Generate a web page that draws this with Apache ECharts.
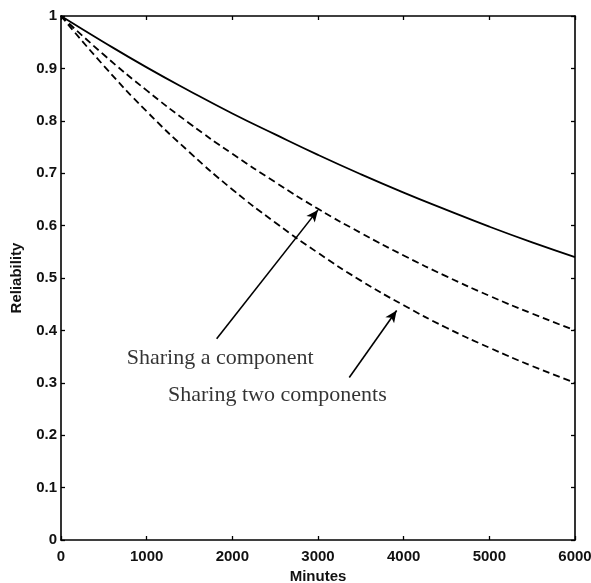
<!DOCTYPE html>
<html>
<head>
    <meta charset="utf-8">
    <title>Reliability</title>
    <script src="https://cdn.jsdelivr.net/npm/echarts@6/dist/echarts.min.js"></script>
    <style>
        html, body { margin: 0; padding: 0; background: #fff; overflow: hidden; }
        #main { width: 591px; height: 583px; }
    </style>
</head>
<body>
    <div id="main"></div>
    <script>
        // minutes on the x axis
        var minutes = [0, 500, 1000, 1500, 2000, 2500, 3000, 3500, 4000, 4500, 5000, 5500, 6000];
        // reliability values
        var noSharing = [1.0, 0.950, 0.902, 0.857, 0.814, 0.774, 0.735, 0.698, 0.663, 0.630, 0.598, 0.568, 0.540];
        var shareOne = [1.0, 0.926, 0.858, 0.795, 0.737, 0.683, 0.632, 0.586, 0.543, 0.503, 0.466, 0.432, 0.400];
        var shareTwo = [1.0, 0.905, 0.818, 0.740, 0.669, 0.606, 0.548, 0.495, 0.448, 0.405, 0.367, 0.332, 0.300];

        // annotation arrows: [from, to] in data units
        var arrowOne = [[1817, 0.384], [3000, 0.630]];
        var arrowTwo = [[3365, 0.310], [3918, 0.438]];
        var noteLabels = ['Sharing a component', 'Sharing two components'];
        var notePos = [[767, 0.347], [1249, 0.277]];

        function pairs(xs, ys) {
            var out = [];
            for (var i = 0; i < xs.length; i++) out.push([xs[i], ys[i]]);
            return out;
        }

        var tickFont = { fontFamily: 'Liberation Sans', fontSize: 15, fontWeight: 'bold', color: '#111' };
        var nameFont = { fontFamily: 'Liberation Sans', fontSize: 15, fontWeight: 'bold', color: '#111' };
        var blackLine = { show: true, onZero: false, lineStyle: { color: '#000', width: 1.6 } };
        var inTick = { show: true, inside: true, length: 4, lineStyle: { color: '#000', width: 1.3 } };

        var myChart = echarts.init(document.getElementById('main'));
        var option = {
            animation: false,
            grid: { left: 61, right: 16, top: 16, bottom: 43, outerBoundsMode: 'none', containLabel: false },
            xAxis: [{
                type: 'value', min: 0, max: 6000, interval: 1000,
                name: 'Minutes', nameLocation: 'middle', nameGap: 29,
                nameTextStyle: nameFont,
                axisLine: blackLine,
                axisTick: inTick,
                axisLabel: Object.assign({ margin: 9, formatter: function (v) { return String(v); } }, tickFont),
                splitLine: { show: false }
            }, {
                type: 'value', min: 0, max: 6000, interval: 1000, position: 'top',
                axisLine: blackLine,
                axisTick: inTick,
                axisLabel: { show: false },
                splitLine: { show: false }
            }],
            yAxis: [{
                type: 'value', min: 0, max: 1, interval: 0.1,
                name: 'Reliability', nameLocation: 'middle', nameGap: 37,
                nameTextStyle: nameFont,
                axisLine: blackLine,
                axisTick: inTick,
                axisLabel: Object.assign({ margin: 4, formatter: function (v) { return String(+v.toFixed(1)); } }, tickFont),
                splitLine: { show: false }
            }, {
                type: 'value', min: 0, max: 1, interval: 0.1, position: 'right',
                axisLine: blackLine,
                axisTick: inTick,
                axisLabel: { show: false },
                splitLine: { show: false }
            }],
            series: [{
                name: 'no sharing', type: 'line', smooth: true, symbol: 'none',
                data: pairs(minutes, noSharing),
                lineStyle: { color: '#000', width: 1.8 }
            }, {
                name: 'sharing a component', type: 'line', smooth: true, symbol: 'none',
                data: pairs(minutes, shareOne),
                lineStyle: { color: '#000', width: 1.8, type: [7, 4] },
                markLine: {
                    silent: true, symbol: ['none', 'arrow'], symbolSize: [8, 12],
                    label: { show: false },
                    lineStyle: { color: '#000', width: 1.6, type: 'solid' },
                    data: [
                        [{ coord: arrowOne[0] }, { coord: arrowOne[1] }],
                        [{ coord: arrowTwo[0] }, { coord: arrowTwo[1] }]
                    ]
                }
            }, {
                name: 'sharing two components', type: 'line', smooth: true, symbol: 'none',
                data: pairs(minutes, shareTwo),
                lineStyle: { color: '#000', width: 1.8, type: [7, 4] }
            }, {
                name: 'notes', type: 'scatter', symbolSize: 0, silent: true,
                data: notePos.map(function (p, i) { return { value: p, name: noteLabels[i] }; }),
                label: {
                    show: true, position: 'right', distance: 0,
                    formatter: '{b}',
                    fontFamily: 'Liberation Serif', fontSize: 22, color: '#000'
                }
            }]
        };
        myChart.setOption(option);
    </script>
</body>
</html>
